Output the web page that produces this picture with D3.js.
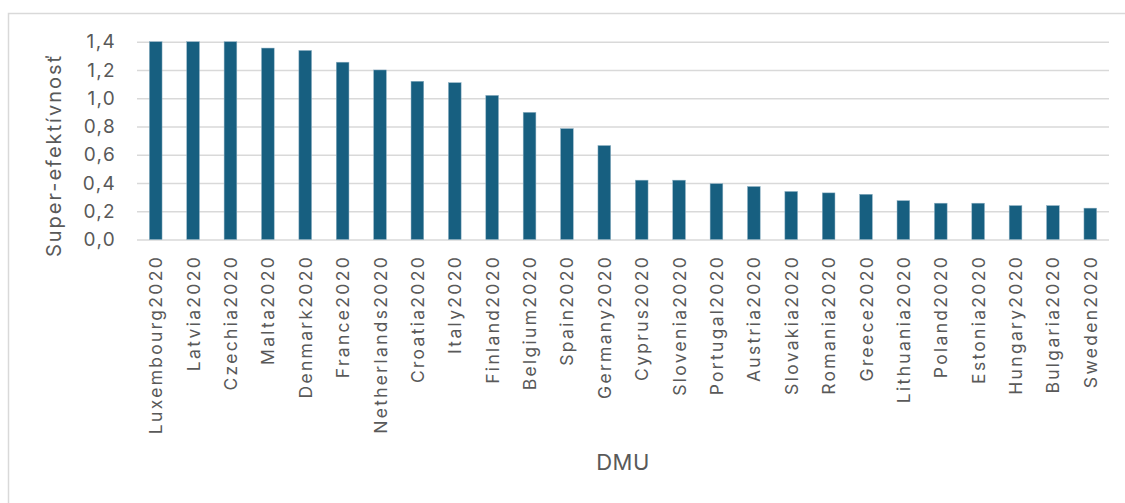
<!DOCTYPE html>
<html>
<head>
<meta charset="utf-8">
<script src="https://cdn.jsdelivr.net/npm/d3@7"></script>
<style>
  html, body { margin: 0; padding: 0; background: #ffffff; overflow: hidden; }
  svg { display: block; }
  text { font-family: Inter, "Open Sans", "Liberation Sans", sans-serif; fill: #595959; }
</style>
</head>
<body>
<svg id="chart" width="1125" height="503"></svg>
<script>
// Super-efficiency scores per DMU (2020), ordered from highest to lowest
const dmus = [
  "Luxembourg2020", "Latvia2020", "Czechia2020", "Malta2020", "Denmark2020",
  "France2020", "Netherlands2020", "Croatia2020", "Italy2020", "Finland2020",
  "Belgium2020", "Spain2020", "Germany2020", "Cyprus2020", "Slovenia2020",
  "Portugal2020", "Austria2020", "Slovakia2020", "Romania2020", "Greece2020",
  "Lithuania2020", "Poland2020", "Estonia2020", "Hungary2020", "Bulgaria2020",
  "Sweden2020"
];
const superEfficiency = [
  1.40, 1.40, 1.40, 1.355, 1.338,
  1.255, 1.20, 1.12, 1.11, 1.02,
  0.90, 0.785, 0.665, 0.42, 0.42,
  0.395, 0.375, 0.34, 0.33, 0.32,
  0.275, 0.257, 0.257, 0.24, 0.24,
  0.222
];
const yTicks = [0, 0.2, 0.4, 0.6, 0.8, 1.0, 1.2, 1.4];
const yTitle = "Super-efektívnosť";
const xTitle = "DMU";

const data = dmus.map((d, i) => ({ dmu: d, value: superEfficiency[i] }));

const svg = d3.select("#chart");

// chart area frame (only the top and left edges fall inside the view)
svg.append("rect")
  .attr("x", 8.5).attr("y", 13.5)
  .attr("width", 1200).attr("height", 600)
  .attr("fill", "none")
  .attr("stroke", "#d9d9d9")
  .attr("stroke-width", 1.5);

const plot = { left: 137, right: 1109, top: 41.7, bottom: 239.5 };

const x = d3.scaleBand()
  .domain(dmus)
  .range([plot.left, plot.right])
  .paddingInner(0.66)
  .paddingOuter(0.33);

const y = d3.scaleLinear()
  .domain([0, 1.4])
  .range([plot.bottom, plot.top]);

const fmt = v => d3.format(".1f")(v).replace(".", ",");

// horizontal gridlines + y tick labels
const yAxis = d3.axisLeft(y)
  .tickValues(yTicks)
  .tickSize(-(plot.right - plot.left))
  .tickPadding(21)
  .tickFormat(fmt);

const gy = svg.append("g")
  .attr("transform", `translate(${plot.left},0)`)
  .call(yAxis);
gy.select(".domain").remove();
gy.selectAll(".tick line")
  .attr("stroke", "#d9d9d9")
  .attr("stroke-width", 1.5);
gy.selectAll(".tick text")
  .attr("fill", "#595959")
  .style("font-size", "19px")
  .style("letter-spacing", "1.3px");

// bars
svg.append("g")
  .selectAll("rect")
  .data(data)
  .join("rect")
  .attr("x", d => x(d.dmu))
  .attr("y", d => y(d.value))
  .attr("width", x.bandwidth())
  .attr("height", d => y(0) - y(d.value))
  .attr("fill", "#175f80")
  .attr("stroke", "#8fb2c4")
  .attr("stroke-width", 0.5);

// category labels, rotated
const xAxis = d3.axisBottom(x).tickSize(0).tickPadding(0);
const gx = svg.append("g")
  .attr("transform", `translate(0,${plot.bottom})`)
  .call(xAxis);
gx.select(".domain").remove();
gx.selectAll(".tick text")
  .attr("fill", "#595959")
  .style("font-size", "17.5px")
  .style("letter-spacing", "2.3px")
  .attr("text-anchor", "end")
  .attr("dy", null)
  .attr("y", 0)
  .attr("transform", "translate(6.5,15.5) rotate(-90)");

// axis titles
svg.append("text")
  .attr("transform", "translate(61,155) rotate(-90)")
  .attr("text-anchor", "middle")
  .style("font-size", "20px")
  .style("letter-spacing", "2px")
  .text(yTitle);

svg.append("text")
  .attr("x", 623)
  .attr("y", 469.5)
  .attr("text-anchor", "middle")
  .style("font-size", "22px")
  .style("letter-spacing", "0.5px")
  .text(xTitle);
</script>
</body>
</html>
